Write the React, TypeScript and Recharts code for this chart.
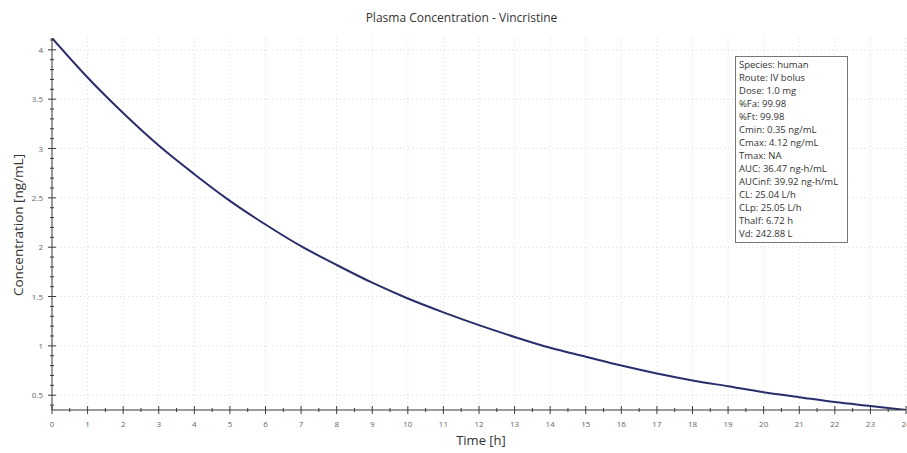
import React from 'react';
import { CartesianGrid, Line, LineChart, XAxis, YAxis } from 'recharts';

// ─── Data ────────────────────────────────────────────────────────────

const TIME_H = [0, 1, 2, 3, 4, 5, 6, 7, 8, 9, 10, 11, 12, 13, 14, 15, 16, 17, 18, 19, 20, 21, 22, 23, 24];
const CONC_NG_ML = [
  4.12, 3.72, 3.36, 3.03, 2.74, 2.47, 2.23, 2.01, 1.82, 1.64, 1.48, 1.34, 1.21,
  1.09, 0.98, 0.89, 0.8, 0.72, 0.65, 0.59, 0.53, 0.48, 0.43, 0.39, 0.35,
];

const X_MAJOR = TIME_H;
const Y_MAJOR = [0.5, 1, 1.5, 2, 2.5, 3, 3.5, 4];
const Y_LABELS = ['0.5', '1', '1.5', '2', '2.5', '3', '3.5', '4'];

const INFO_LINES = [
  'Species: human',
  'Route: IV bolus',
  'Dose: 1.0 mg',
  '%Fa: 99.98',
  '%Ft: 99.98',
  'Cmin: 0.35 ng/mL',
  'Cmax: 4.12 ng/mL',
  'Tmax: NA',
  'AUC: 36.47 ng-h/mL',
  'AUCinf: 39.92 ng-h/mL',
  'CL: 25.04 L/h',
  'CLp: 25.05 L/h',
  'Thalf: 6.72 h',
  'Vd: 242.88 L',
];

// minor ticks: every 0.5 h on x, every 0.1 on y
const X_TICKS = Array.from({ length: 49 }, (_, i) => i / 2);
const Y_TICKS = Array.from({ length: 38 }, (_, i) => Math.round((0.4 + i * 0.1) * 10) / 10);

const data = TIME_H.map((t, i) => ({ t, c: CONC_NG_ML[i] }));

const FONT = '"Open Sans", "Noto Sans", sans-serif';
const AXIS = '#3a3a3a';

// ─── Ticks ───────────────────────────────────────────────────────────

const XTick = (props: any) => {
  const { x, y, payload } = props;
  const v = payload.value as number;
  const major = Number.isInteger(v);
  const len = major ? 4 : 2;
  return (
    <g>
      <line x1={x} x2={x} y1={y - len} y2={y + len} stroke={AXIS} strokeWidth={1} />
      {major && (
        <text x={x} y={y + 17} textAnchor="middle" fontSize={8} fill="#666" fontFamily={FONT}>
          {v}
        </text>
      )}
    </g>
  );
};

const YTick = (props: any) => {
  const { x, y, payload } = props;
  const v = payload.value as number;
  const idx = Y_MAJOR.indexOf(v);
  const major = idx >= 0;
  const len = major ? 4 : 2;
  return (
    <g>
      <line x1={x - len} x2={x + len} y1={y} y2={y} stroke={AXIS} strokeWidth={1} />
      {major && (
        <text x={x - 9} y={y + 3} textAnchor="end" fontSize={8} fill="#666" fontFamily={FONT}>
          {Y_LABELS[idx]}
        </text>
      )}
    </g>
  );
};

// ─── Component ───────────────────────────────────────────────────────

export default function App() {
  return (
    <div
      style={{
        position: 'absolute',
        left: 0,
        top: 0,
        width: 907,
        height: 453,
        background: '#fff',
        fontFamily: FONT,
      }}
    >
      <LineChart
        width={907}
        height={453}
        data={data}
        margin={{ top: 38, right: 1, left: 0, bottom: 0 }}
      >
        <CartesianGrid
          stroke="#dcdcdc"
          strokeDasharray="1 3"
          verticalValues={X_MAJOR}
          horizontalValues={Y_MAJOR}
        />
        <XAxis
          dataKey="t"
          type="number"
          domain={[0, 24]}
          ticks={X_TICKS}
          interval={0}
          height={43}
          tickSize={0}
          tickMargin={0}
          stroke={AXIS}
          tick={<XTick />}
        />
        <YAxis
          type="number"
          domain={[0.35, 4.12]}
          ticks={Y_TICKS}
          interval={0}
          width={52}
          tickSize={0}
          tickMargin={0}
          stroke={AXIS}
          tick={<YTick />}
          allowDataOverflow
        />
        <Line
          type="monotone"
          dataKey="c"
          stroke="#2a2d6b"
          strokeWidth={2}
          dot={false}
          isAnimationActive={false}
        />
      </LineChart>

      <div
        style={{
          position: 'absolute',
          top: 9,
          left: 0,
          width: 907,
          textAlign: 'center',
          fontSize: 12,
          color: '#333',
          paddingLeft: 8,
        }}
      >
        Plasma Concentration - Vincristine
      </div>

      <div
        style={{
          position: 'absolute',
          left: 481,
          top: 440,
          transform: 'translate(-50%, -50%)',
          fontSize: 13,
          color: '#333',
          whiteSpace: 'nowrap',
        }}
      >
        Time [h]
      </div>

      <div
        style={{
          position: 'absolute',
          left: 18,
          top: 225,
          transform: 'translate(-50%, -50%) rotate(-90deg)',
          fontSize: 13.5,
          color: '#333',
          whiteSpace: 'nowrap',
        }}
      >
        Concentration [ng/mL]
      </div>

      <div
        style={{
          position: 'absolute',
          left: 735,
          top: 56,
          width: 113,
          height: 187,
          boxSizing: 'border-box',
          border: '1px solid #777',
          background: '#fff',
          padding: '1px 3px',
          fontSize: 9.5,
          lineHeight: '13px',
          color: '#333',
        }}
      >
        {INFO_LINES.map((l) => (
          <div key={l} style={{ whiteSpace: 'nowrap' }}>
            {l}
          </div>
        ))}
      </div>
    </div>
  );
}
